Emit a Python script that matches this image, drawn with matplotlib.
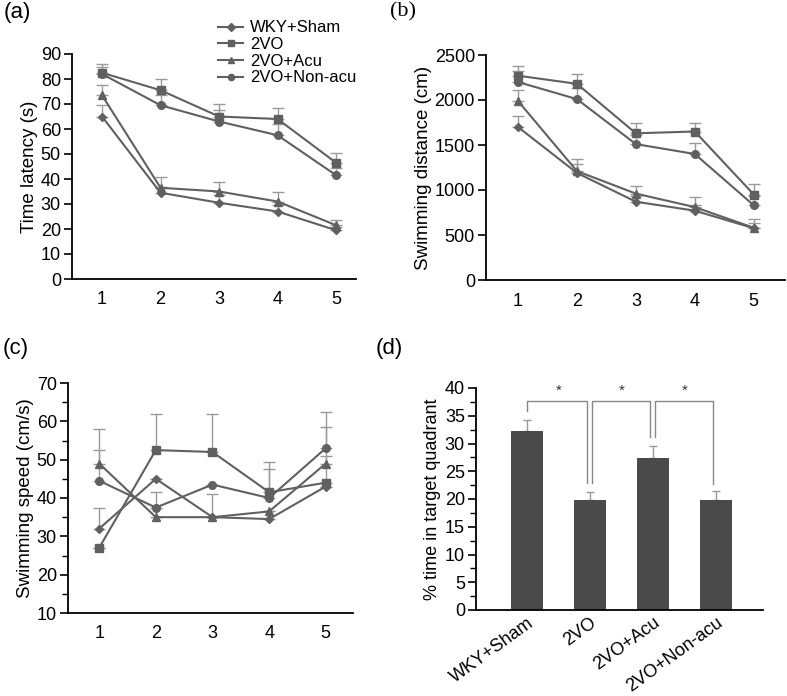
import numpy as np
import matplotlib
matplotlib.use('Agg')
import matplotlib.pyplot as plt
from matplotlib.ticker import MultipleLocator
from matplotlib.lines import Line2D

plt.rcParams['font.family'] = ['Liberation Sans', 'DejaVu Sans']

# ================= DATEN =================
groups = ['WKY+Sham', '2VO', '2VO+Acu', '2VO+Non-acu']
markers = ['D', 's', '^', 'o']
days = [1, 2, 3, 4, 5]

# (a) Time latency (s)
lat_mean = [
    [65, 34.5, 30.5, 27, 19.5],
    [82.5, 75.5, 65, 64, 46.5],
    [73.5, 36.5, 35, 31, 21.5],
    [82, 69.5, 63, 57.5, 41.5],
]
lat_err = [
    [4.5, 2.5, 3, 2.5, 1.5],
    [3.5, 4.5, 5, 4.5, 4],
    [4, 4.5, 4, 4, 2],
    [3, 4, 4.5, 4.5, 3],
]

# (b) Swimming distance (cm)
dist_mean = [
    [1700, 1190, 870, 770, 575],
    [2270, 2180, 1630, 1650, 950],
    [1990, 1210, 960, 810, 580],
    [2200, 2010, 1510, 1400, 830],
]
dist_err = [
    [120, 100, 60, 60, 60],
    [110, 110, 120, 90, 115],
    [120, 130, 90, 110, 100],
    [120, 120, 100, 120, 100],
]

# (c) Swimming speed (cm/s)
speed_mean = [
    [32, 45, 35, 34.5, 43],
    [27, 52.5, 52, 41.5, 44],
    [49, 35, 35, 36.5, 49],
    [44.5, 37.5, 43.5, 40, 53],
]
speed_err = [
    [5.5, 0, 0, 0, 0],
    [0, 9.5, 10, 8, 7],
    [3.5, 6.5, 6, 0, 9.5],
    [13.5, 0, 0, 7.5, 9.5],
]

# (d) % time in target quadrant
pct_mean = [32.3, 19.8, 27.4, 19.8]
pct_err = [2.0, 1.5, 2.2, 1.6]
sig_pairs = [(0, 1), (1, 2), (2, 3)]
sig_leg_bottom = [(35.9, 22.8), (22.8, 31.2), (31.2, 22.7)]
sig_top = 37.7

# ================= STIL =================
LINE_C = '#606060'
ERR_C = '#9a9a9a'
BAR_C = '#4a4a4a'
FS = 13
LFS = 13.5

fig = plt.figure(figsize=(7.87, 6.96), dpi=100)


def style_axes(ax):
    for s in ['top', 'right']:
        ax.spines[s].set_visible(False)
    ax.spines['left'].set_linewidth(1.3)
    ax.spines['bottom'].set_linewidth(1.3)
    ax.tick_params(axis='y', direction='out', length=6, width=1.2,
                   labelsize=FS, pad=2)
    ax.tick_params(axis='x', length=0, labelsize=FS, pad=9)
    ax.tick_params(axis='y', which='minor', length=4, width=1)


def line_panel(ax, means, errs):
    for m, e, mk in zip(means, errs, markers):
        ax.errorbar(days, m, yerr=[np.zeros(len(e)), e], color=LINE_C,
                    ecolor=ERR_C, elinewidth=1, capsize=4, capthick=1,
                    marker=mk, markersize=5.5 if mk != 'D' else 4.5,
                    lw=1.5, zorder=3)
    ax.set_xticks(days)
    style_axes(ax)


# (a)
ax1 = fig.add_axes([72 / 787, 1 - 279 / 696, 284 / 787, 225 / 696])
line_panel(ax1, lat_mean, lat_err)
ax1.set_xlim(0.487, 5.34)
ax1.set_ylim(0, 90)
ax1.set_yticks(range(0, 91, 10))
ax1.set_ylabel('Time latency (s)', fontsize=LFS, labelpad=2)

# (b)
ax2 = fig.add_axes([486 / 787, 1 - 280 / 696, 299 / 787, 225 / 696])
line_panel(ax2, dist_mean, dist_err)
ax2.set_xlim(0.458, 5.53)
ax2.set_ylim(0, 2500)
ax2.set_yticks(range(0, 2501, 500))
ax2.set_ylabel('Swimming distance (cm)', fontsize=LFS, labelpad=2)

# (c)
ax3 = fig.add_axes([68 / 787, 1 - 613 / 696, 285 / 787, 230 / 696])
line_panel(ax3, speed_mean, speed_err)
ax3.set_xlim(0.45, 5.48)
ax3.set_ylim(10, 70)
ax3.set_yticks(range(10, 71, 10))
ax3.yaxis.set_minor_locator(MultipleLocator(5))
ax3.set_ylabel('Swimming speed (cm/s)', fontsize=LFS, labelpad=2)

# (d)
ax4 = fig.add_axes([476 / 787, 1 - 610 / 696, 287 / 787, 222 / 696])
xb = np.arange(1, len(groups) + 1)
ax4.bar(xb, pct_mean, width=0.5, color=BAR_C, zorder=2)
ax4.errorbar(xb, pct_mean, yerr=[np.zeros(len(pct_err)), pct_err], fmt='none',
             ecolor=ERR_C, elinewidth=1, capsize=3, capthick=1, zorder=1)
for k, ((i, j), (yl, yr)) in enumerate(zip(sig_pairs, sig_leg_bottom)):
    xl = xb[i] + (0.04 if k > 0 else 0)
    xr = xb[j] - 0.04
    ax4.plot([xl, xl, xr, xr], [yl, sig_top, sig_top, yr], color='#888888',
             lw=1, clip_on=False)
    ax4.text((xb[i] + xb[j]) / 2, sig_top + 0.6, '*', ha='center',
             va='bottom', fontsize=11, color='#333333')
ax4.set_xlim(0.19, 4.75)
ax4.set_ylim(0, 40)
ax4.set_yticks(range(0, 41, 5))
ax4.yaxis.set_minor_locator(MultipleLocator(2.5))
ax4.set_xticks(xb)
style_axes(ax4)
ax4.set_xticklabels(groups, rotation=36, ha='right', rotation_mode='anchor',
                    fontsize=13)
ax4.tick_params(axis='x', pad=3)
ax4.set_ylabel('% time in target quadrant', fontsize=13, labelpad=3)

# Panel-Buchstaben
fig.text(4 / 787, 1 - 2 / 696, '(a)', fontsize=16, va='top', ha='left')
fig.text(390 / 787, 1 - 2 / 696, '(b)', fontsize=16, va='top', ha='left',
         family='Liberation Serif')
fig.text(3 / 787, 1 - 338 / 696, '(c)', fontsize=16, va='top', ha='left')
fig.text(376 / 787, 1 - 338 / 696, '(d)', fontsize=16, va='top', ha='left')

# Legende
handles = [Line2D([0], [0], color=LINE_C, lw=1.5, marker=mk,
                  markersize=4 if mk == 'D' else 4.5) for mk in markers]
fig.legend(handles, groups, loc='upper left',
           bbox_to_anchor=(210 / 787, 1 - 12 / 696), frameon=False,
           fontsize=12, handlelength=1.5, handletextpad=0.4,
           labelspacing=0.1, borderpad=0)

fig.savefig('out.png', dpi=100)
